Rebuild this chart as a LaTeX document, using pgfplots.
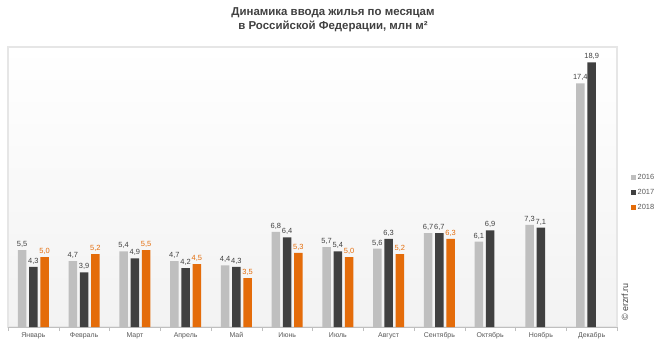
\documentclass[border=0pt]{standalone}
\usepackage{pgfplots}
\pgfplotsset{compat=1.18}
\usepackage{fontspec}
\setmainfont{Liberation Sans}
\definecolor{cA}{HTML}{BFBFBF}
\definecolor{cB}{HTML}{404040}
\definecolor{cC}{HTML}{E46C0A}
\definecolor{txt}{HTML}{595959}
\definecolor{frm}{HTML}{E6E6E6}
\begin{document}
\begin{tikzpicture}[x=1bp,y=1bp]
\path[use as bounding box] (0,0) rectangle (666,351);
\node[font=\bfseries\fontsize{11.5}{14}\selectfont, text=cB, align=center] at (333,331) {Динамика ввода жилья по месяцам\\в Российской Федерации, млн м²};
\begin{axis}[
  at={(8bp,24bp)}, anchor=south west,
  scale only axis, width=609bp, height=280bp,
  ymin=0, ymax=20, xmin=-0.5, xmax=11.5,
  ybar, bar width=8.5bp,
  axis x line*=bottom, axis y line=none,
  x axis line style={draw=cA},
  axis background/.style={top color=white, bottom color=black!5, draw=frm, line width=1.2pt},
  xtick={0,...,11},
  xticklabels={Январь,Февраль,Март,Апрель,Май,Июнь,Июль,Август,Сентябрь,Октябрь,Ноябрь,Декабрь},
  major tick length=0pt,
  xticklabel style={font=\fontsize{7}{8}\selectfont, text=txt, yshift=-2bp},
  extra x ticks={-0.5,0.5,1.5,2.5,3.5,4.5,5.5,6.5,7.5,8.5,9.5,10.5,11.5},
  extra x tick labels={},
  extra x tick style={major tick length=4bp, tick align=outside, tick style={draw=cA}},
  nodes near coords,
  every node near coord/.append style={font=\fontsize{7.5}{8}\selectfont, yshift=-1bp},
  /pgf/number format/.cd, fixed, fixed zerofill, precision=1, use comma, assume math mode=true,
  /pgfplots/.cd,
  legend style={at={(1.022,0.48)}, anchor=west, draw=none, fill=none,
    font=\fontsize{7.5}{8}\selectfont, text=txt, row sep=4bp, inner sep=0pt},
  legend cell align=left,
  legend image code/.code={\fill[#1] (0bp,-2.5bp) rectangle (5bp,2.5bp);},
]
\addplot[fill=cA, draw=none, bar shift=-11.3bp, every node near coord/.append style={text=cB}] coordinates {
(0,5.5) (1,4.7) (2,5.4) (3,4.7) (4,4.4) (5,6.8) (6,5.7) (7,5.6) (8,6.7) (9,6.1) (10,7.3) (11,17.4)};
\addplot[fill=cB, draw=none, bar shift=0bp, every node near coord/.append style={text=cB}] coordinates {
(0,4.3) (1,3.9) (2,4.9) (3,4.2) (4,4.3) (5,6.4) (6,5.4) (7,6.3) (8,6.7) (9,6.9) (10,7.1) (11,18.9)};
\addplot[fill=cC, draw=none, bar shift=11.3bp, every node near coord/.append style={text=cC}] coordinates {
(0,5.0) (1,5.2) (2,5.5) (3,4.5) (4,3.5) (5,5.3) (6,5.0) (7,5.2) (8,6.3)};
\legend{2016,2017,2018}
\end{axis}
\node[rotate=90, font=\fontsize{9}{10}\selectfont, text=cB] at (625,49) {© erzrf.ru};
\end{tikzpicture}
\end{document}
